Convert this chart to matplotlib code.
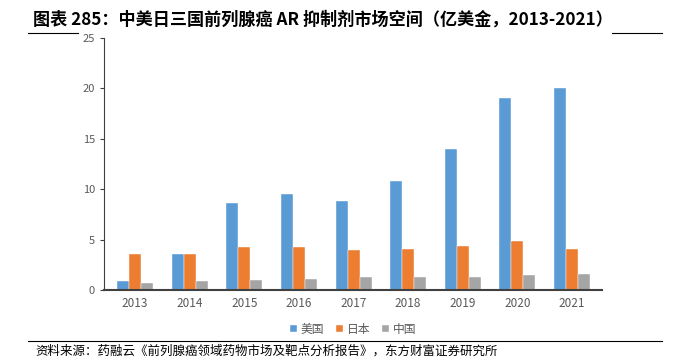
import matplotlib
matplotlib.use('Agg')
import matplotlib.pyplot as plt
import numpy as np

plt.rcParams['font.family'] = ['Noto Sans CJK SC', 'DejaVu Sans']

years = ['2013', '2014', '2015', '2016', '2017', '2018', '2019', '2020', '2021']
usa = [0.9, 3.6, 8.6, 9.5, 8.8, 10.8, 14.0, 19.0, 20.0]
japan = [3.55, 3.6, 4.3, 4.3, 3.95, 4.1, 4.35, 4.9, 4.1]
china = [0.65, 0.85, 0.95, 1.05, 1.25, 1.3, 1.3, 1.45, 1.55]
series_names = ['美国', '日本', '中国']
colors = ['#5B9BD5', '#ED7D31', '#A5A5A5']

fig = plt.figure(figsize=(6.73, 3.6), dpi=100)
ax = fig.add_axes([0.1545, 0.1944, 0.74, 0.70])

x = np.arange(len(years))
w = 0.22
for i, (vals, name) in enumerate(zip([usa, japan, china], series_names)):
    ax.bar(x + (i - 1) * w, vals, width=w, color=colors[i], label=name,
           edgecolor='white', linewidth=0.3)

ax.set_ylim(0, 25)
ax.set_yticks(range(0, 26, 5))
ax.set_xlim(-0.57, 8.55)
ax.set_xticks(x)
ax.set_xticklabels(years)
for s in ['top', 'right']:
    ax.spines[s].set_visible(False)
ax.spines['left'].set_color('#404040')
ax.spines['bottom'].set_color('#404040')
ax.spines['bottom'].set_linewidth(1.5)
ax.tick_params(axis='y', length=3, colors='#404040', labelsize=8, labelcolor='#595959')
ax.tick_params(axis='x', length=0, labelsize=8.5, labelcolor='#595959', pad=5)

leg = ax.legend(loc='center', bbox_to_anchor=(0.5, -0.155), ncol=3, frameon=False,
                fontsize=8.5, handlelength=0.6, handleheight=0.6, columnspacing=1.0,
                handletextpad=0.3)
for t in leg.get_texts():
    t.set_color('#595959')

fig.text(33 / 673, 1 - 20 / 360, '图表 285：中美日三国前列腺癌 AR 抑制剂市场空间（亿美金，2013-2021）',
         fontsize=12.3, fontweight='bold', va='center', ha='left', color='black')
fig.add_artist(plt.Line2D([28 / 673, 78 / 673], [1 - 33 / 360] * 2, color='black', lw=0.8))
fig.add_artist(plt.Line2D([612 / 673, 662 / 673], [1 - 33 / 360] * 2, color='black', lw=0.8))
fig.add_artist(plt.Line2D([28 / 673, 662 / 673], [1 - 341 / 360] * 2, color='black', lw=0.8))
fig.text(35 / 673, 1 - 351 / 360, '资料来源：药融云《前列腺癌领域药物市场及靶点分析报告》，东方财富证券研究所',
         fontsize=9, va='center', ha='left', color='black')

fig.savefig('out.png', dpi=100)
